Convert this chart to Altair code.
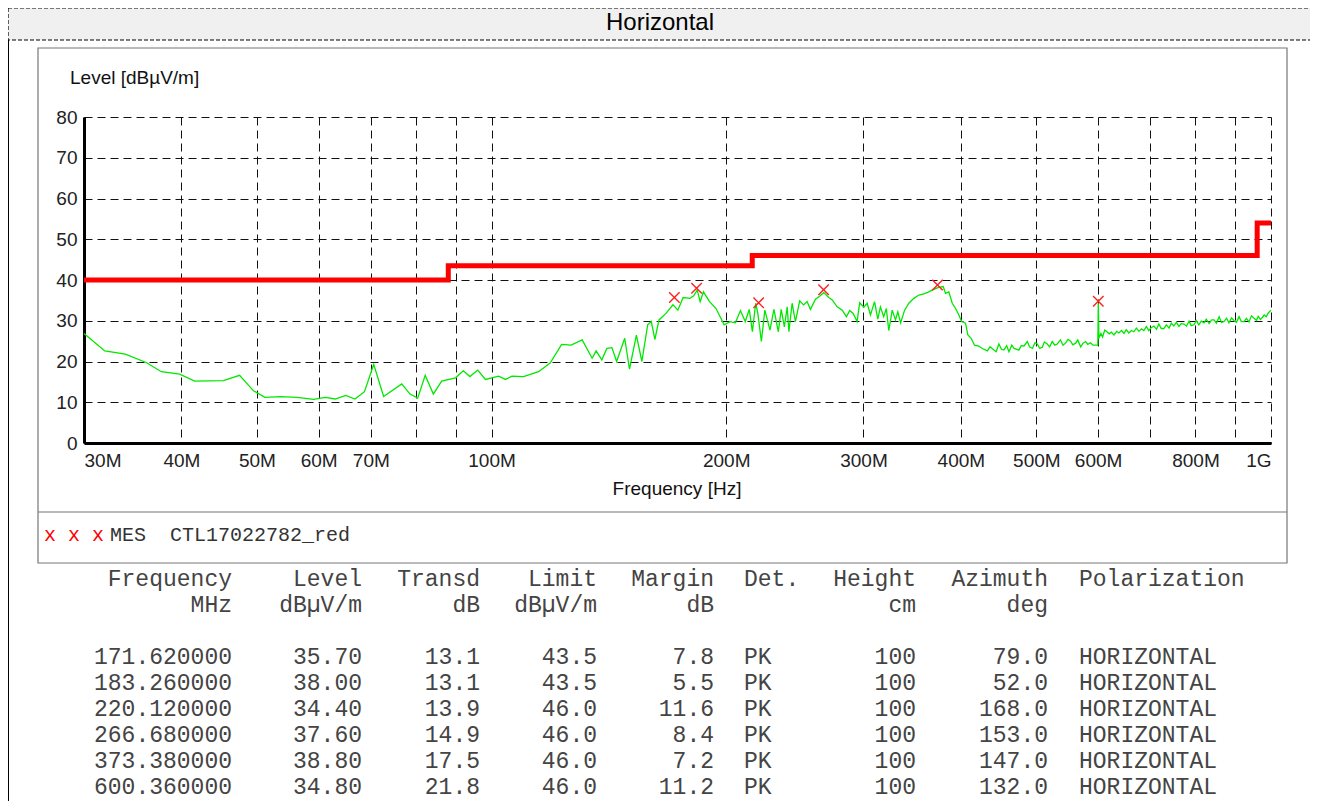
import altair as alt
import pandas as pd

# ---------------- data ----------------
FREQ = [30.0, 31.9, 33.9, 36.1, 37.7, 39.8, 41.6, 45.3, 47.5, 49.5, 51.2, 53.6, 56.3, 59.1, 61.2, 63.0,
        65.0, 66.8, 68.7, 70.6, 72.7, 76.7, 78.6, 80.4, 82.2, 84.2, 86.3, 89.9, 92.0, 93.8, 96.0, 98.2,
        102.1, 104.2, 106.2, 109.9, 114.9, 118.9, 123.0, 126.5, 130.7, 134.6, 136.2, 138.5, 140.6, 142.7,
        144.7, 148.2, 150.3, 153.4, 155.9, 158.6, 160.3, 162.0, 164.0, 167.4, 170.9, 173.4, 176.1, 179.7,
        181.7, 183.6, 185.2, 187.0, 190.4, 194.1, 198.8, 202.3, 205.5, 208.6, 211.6, 214.1, 216.1, 218.2,
        219.6, 221.9, 224.2, 227.6, 230.3, 233.3, 235.3, 237.5, 239.5, 240.7, 243.0, 245.4, 248.5, 251.4,
        254.0, 256.5, 260.4, 263.7, 266.8, 270.8, 273.6, 277.6, 281.8, 285.3, 288.1, 291.0, 294.4, 296.7,
        300.3, 303.3, 306.3, 310.0, 313.0, 315.4, 318.5, 321.0, 323.3, 326.6, 329.8, 332.1, 334.8, 338.8,
        343.1, 348.1, 353.3, 358.6, 363.8, 369.2, 374.6, 379.7, 382.3, 386.1, 390.0, 393.8, 397.7, 400.9,
        405.6, 408.4, 412.4, 416.5, 421.8, 426.2, 432.6, 436.0, 441.1, 444.0, 447.6, 451.0, 454.2, 458.0,
        461.1, 465.0, 468.0, 474.8, 478.0, 482.0, 486.9, 490.0, 494.2, 498.0, 501.4, 505.0, 508.8, 512.0,
        516.3, 520.0, 524.0, 528.0, 531.8, 536.9, 541.0, 545.0, 549.0, 553.2, 557.0, 561.6, 565.0, 569.9,
        574.0, 578.4, 582.0, 586.9, 591.0, 595.7, 599.5, 600.4, 601.5, 605.0, 608.0, 612.0, 616.0, 620.0,
        624.0, 628.8, 634.0, 638.0, 643.0, 647.8, 652.0, 657.0, 662.0, 666.9, 672.0, 677.0, 682.0, 686.8,
        692.0, 697.0, 702.0, 707.6, 713.0, 718.0, 723.0, 728.8, 734.0, 740.0, 745.0, 750.6, 756.0, 762.0,
        767.0, 773.1, 779.0, 785.0, 790.0, 796.5, 802.0, 808.0, 814.0, 820.5, 826.0, 833.0, 839.0, 845.2,
        851.0, 858.0, 864.0, 870.4, 877.0, 883.0, 890.0, 896.5, 903.0, 910.0, 916.0, 923.3, 930.0, 937.0,
        944.0, 951.1, 958.0, 963.0, 969.0, 974.7, 980.0, 986.0, 992.0, 1000.0]
LEVEL = [26.9, 22.6, 21.8, 19.7, 17.5, 16.9, 15.2, 15.3, 16.6, 12.8, 11.2, 11.4, 11.2, 10.7, 11.2, 10.8,
         11.7, 10.8, 12.6, 19.3, 11.4, 14.5, 12.0, 11.0, 16.6, 12.0, 15.2, 16.0, 17.7, 16.3, 17.9, 15.6,
         16.4, 15.6, 16.4, 16.3, 17.5, 19.6, 24.2, 24.0, 25.3, 20.8, 22.6, 20.4, 23.2, 23.4,
         20.0, 25.7, 18.1, 26.5, 20.0, 29.0, 29.8, 25.4, 30.2, 31.8, 33.9, 32.6, 35.7, 35.5,
         36.1, 37.5, 34.7, 37.1, 34.7, 33.0, 29.0, 29.8, 29.5, 32.5, 29.8, 32.8, 27.3, 34.3,
         31.8, 24.9, 32.6, 27.7, 32.8, 27.3, 32.8, 28.5, 33.4, 27.3, 34.3, 29.8, 34.9, 33.9,
         34.7, 32.8, 35.3, 36.1, 36.9, 35.7, 35.1, 33.4, 32.6, 31.0, 32.5, 31.8, 29.8, 34.4,
         33.3, 34.3, 31.4, 34.7, 30.4, 33.4, 31.0, 33.0, 27.6, 32.6, 30.2, 32.2, 29.5, 32.6,
         34.3, 35.5, 36.3, 36.6, 37.1, 37.7, 38.2, 38.4, 36.7, 37.1, 34.3, 33.0, 31.4, 29.8,
         29.4, 26.5, 25.7, 24.0, 23.8, 23.2, 22.6, 23.6, 22.8, 22.4, 24.3, 23.0, 22.8, 23.9,
         22.4, 24.0, 23.2, 22.8, 23.9, 23.8, 24.9, 23.6, 23.2, 24.6, 24.3, 23.2, 23.5, 24.8,
         24.3, 23.6, 24.9, 24.0, 24.3, 25.3, 24.0, 24.5, 25.4, 25.0, 24.1, 24.5, 25.3, 23.6,
         24.5, 24.9, 24.2, 24.6, 24.0, 24.0, 24.0, 34.3, 25.7, 26.9, 26.0, 27.7, 27.3, 26.8,
         27.2, 26.5, 27.4, 27.0, 27.6, 26.9, 27.8, 27.0, 27.6, 27.3, 28.2, 27.4, 28.0, 27.6,
         28.6, 27.6, 28.3, 28.7, 27.9, 29.2, 28.1, 28.1, 29.0, 28.2, 29.4, 28.7, 29.6, 28.6,
         29.3, 29.2, 28.7, 29.9, 28.8, 29.0, 30.0, 29.0, 29.9, 29.5, 30.4, 29.3, 30.2, 30.2,
         29.4, 31.0, 29.6, 29.8, 30.6, 29.5, 30.7, 30.0, 29.6, 31.0, 29.8, 29.8, 30.6, 29.7,
         31.2, 30.6, 30.1, 31.1, 30.3, 30.8, 31.4, 31.0, 31.9, 32.6]

LIMIT_FREQ = [30, 88, 216, 960, 1000]
LIMIT_LEVEL = [40.0, 43.5, 46.0, 54.0, 54.0]

MES_FREQ = [171.62, 183.26, 220.12, 266.68, 373.38, 600.36]
MES_LEVEL = [35.70, 38.00, 34.40, 37.60, 38.80, 34.80]
MES_TRANSD = [13.1, 13.1, 13.9, 14.9, 17.5, 21.8]
MES_LIMIT = [43.5, 43.5, 46.0, 46.0, 46.0, 46.0]
MES_MARGIN = [7.8, 5.5, 11.6, 8.4, 7.2, 11.2]
MES_DET = ["PK", "PK", "PK", "PK", "PK", "PK"]
MES_HEIGHT = [100, 100, 100, 100, 100, 100]
MES_AZIMUTH = [79.0, 52.0, 168.0, 153.0, 147.0, 132.0]
MES_POL = ["HORIZONTAL"] * 6

X_TICKS = [30, 40, 50, 60, 70, 80, 90, 100, 200, 300, 400, 500, 600, 700, 800, 900, 1000]
X_UNLABELLED = [80, 90, 700, 900]
Y_TICKS = [0, 10, 20, 30, 40, 50, 60, 70, 80]

TABLE_HEAD1 = ["Frequency", "Level", "Transd", "Limit", "Margin", "Det.", "Height", "Azimuth", "Polarization"]
TABLE_HEAD2 = ["MHz", "dBµV/m", "dB", "dBµV/m", "dB", "", "cm", "deg", ""]

TITLE = "Horizontal"
Y_TITLE = "Level [dBµV/m]"
X_TITLE = "Frequency [Hz]"
LEGEND_MARK = "x x x"
LEGEND_TEXT = "MES\u00a0\u00a0CTL17022782_red"

# ---------------- layout / style ----------------
W, H = 1187, 326
PAD_L, PAD_T = 76, 109
TOTAL_W, TOTAL_H = 1302, 793
SANS = "Liberation Sans"
MONO = "Liberation Mono"
TABLE_X = [148, 278, 396, 513, 630, 660, 832, 964, 995]
TABLE_ALIGN = ["right", "right", "right", "right", "right", "left", "right", "right", "left"]

# ---------------- build ----------------
trace_df = pd.DataFrame({"freq": FREQ, "level": LEVEL})
limit_df = pd.DataFrame({"freq": LIMIT_FREQ, "level": LIMIT_LEVEL})
mes_df = pd.DataFrame({"freq": MES_FREQ, "level": MES_LEVEL})

label_expr = ("datum.value >= 999 ? '1G' : (indexof(" + str(X_UNLABELLED) +
              ", round(datum.value)) >= 0 ? '' : round(datum.value) + 'M')")

x_enc = alt.X("freq:Q",
              scale=alt.Scale(type="log", domain=[30, 1000], nice=False),
              axis=alt.Axis(values=X_TICKS, labelExpr=label_expr, ticks=False, grid=True,
                            gridDash=[8, 5], gridColor="#111", gridWidth=1,
                            domainColor="#000", domainWidth=3, labelFont=SANS, labelFontSize=19,
                            labelColor="#222", labelPadding=8, labelFlush=True, labelOverlap=False,
                            title=None))
y_enc = alt.Y("level:Q",
              scale=alt.Scale(domain=[0, 80], nice=False, zero=False),
              axis=alt.Axis(values=Y_TICKS, ticks=False, grid=True, gridDash=[8, 5],
                            gridColor="#111", gridWidth=1, domainColor="#000", domainWidth=3,
                            labelFont=SANS, labelFontSize=19, labelColor="#222", labelPadding=7,
                            title=None))

trace = alt.Chart(trace_df).mark_line(color="#00e800", strokeWidth=1.3).encode(x=x_enc, y=y_enc)
limit = alt.Chart(limit_df).mark_line(color="#ff0000", strokeWidth=5, interpolate="step-after").encode(
    x="freq:Q", y="level:Q")
marks = alt.Chart(mes_df).mark_point(shape="M-1,-1L1,1M-1,1L1,-1", size=110, filled=False,
                                     color="#ff2020", strokeWidth=1.4, opacity=1).encode(
    x="freq:Q", y="level:Q")
main = alt.layer(trace, limit, marks)

# table
cols = [
    [f"{v:.6f}" for v in MES_FREQ],
    [f"{v:.2f}" for v in MES_LEVEL],
    [f"{v:.1f}" for v in MES_TRANSD],
    [f"{v:.1f}" for v in MES_LIMIT],
    [f"{v:.1f}" for v in MES_MARGIN],
    list(MES_DET),
    [f"{v:d}" for v in MES_HEIGHT],
    [f"{v:.1f}" for v in MES_AZIMUTH],
    list(MES_POL),
]
table_layers = []
for i, vals in enumerate(cols):
    lines = [TABLE_HEAD1[i], TABLE_HEAD2[i], ""] + vals
    df = pd.DataFrame({"line": list(range(len(lines))), "t": lines})
    table_layers.append(
        alt.Chart(df).mark_text(font=MONO, fontSize=23, color="#444", align=TABLE_ALIGN[i],
                                baseline="middle").encode(
            x=alt.value(TABLE_X[i]),
            y=alt.Y("line:Q", scale=alt.Scale(domain=[0, 8], range=[462, 670], nice=False, zero=False),
                    axis=None),
            text="t:N")
    )
table = alt.layer(*table_layers)

one = pd.DataFrame({"k": [0]})
title_bar = alt.Chart(one).mark_rect(fill="#f0f0f0", stroke="#000", strokeDash=[4, 2], strokeWidth=1.2).encode(
    x=alt.value(-76), x2=alt.value(1229), y=alt.value(-109), y2=alt.value(-77))
left_side = alt.Chart(one).mark_rule(color="#000", strokeWidth=2).encode(
    x=alt.value(-76), y=alt.value(-77), y2=alt.value(700))
right_side = alt.Chart(one).mark_rule(color="#000", strokeWidth=2).encode(
    x=alt.value(1229), y=alt.value(-77), y2=alt.value(700))
frame = alt.Chart(one).mark_rect(fillOpacity=0, stroke="#777", strokeWidth=1.2).encode(
    x=alt.value(-46), x2=alt.value(1203), y=alt.value(-69), y2=alt.value(446))
divider = alt.Chart(one).mark_rule(color="#777", strokeWidth=1.2).encode(
    x=alt.value(-46), x2=alt.value(1203), y=alt.value(395))
title_txt = alt.Chart(one).mark_text(text=TITLE, font=SANS, fontSize=24, color="#000",
                                     baseline="middle").encode(x=alt.value(576), y=alt.value(-94))
ytitle = alt.Chart(one).mark_text(text=Y_TITLE, font=SANS, fontSize=19, color="#111", align="left",
                                  baseline="middle").encode(x=alt.value(-14), y=alt.value(-39))
xtitle = alt.Chart(one).mark_text(text=X_TITLE, font=SANS, fontSize=19, color="#111",
                                  baseline="middle").encode(x=alt.value(593), y=alt.value(372))
leg_mark = alt.Chart(one).mark_text(text=LEGEND_MARK, font=MONO, fontSize=20, color="#ff0000",
                                    align="left", baseline="middle").encode(x=alt.value(-40), y=alt.value(418))
leg_text = alt.Chart(one).mark_text(text=LEGEND_TEXT, font=MONO, fontSize=20, color="#333",
                                    align="left", baseline="middle").encode(x=alt.value(26), y=alt.value(418))

chart = alt.layer(
    title_bar, left_side, right_side, frame, divider, title_txt, ytitle, xtitle, leg_mark, leg_text,
    main, table
).resolve_scale(y="independent").properties(
    width=W, height=H,
    autosize=alt.AutoSizeParams(type="none"),
    padding={"left": PAD_L, "top": PAD_T, "right": TOTAL_W - PAD_L - W, "bottom": TOTAL_H - PAD_T - H},
    background="white",
).configure_view(stroke=None)

chart.save("out.html", embed_options={"renderer": "svg", "actions": False})
